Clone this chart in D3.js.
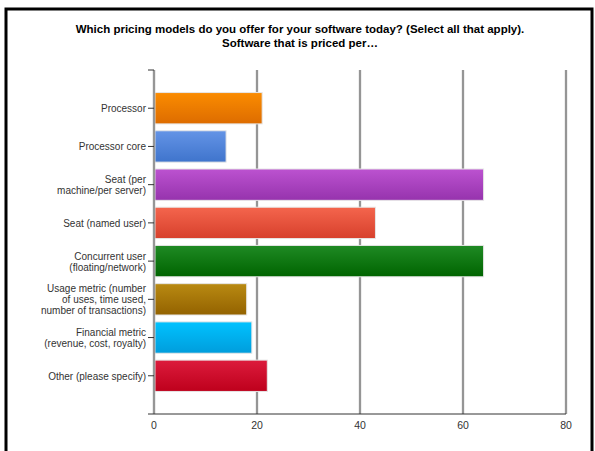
<!DOCTYPE html>
<html>
<head>
<meta charset="utf-8">
<script src="https://cdn.jsdelivr.net/npm/d3@7"></script>
<style>
  body { margin: 0; background: #fff; }
  svg text { font-family: Arial, "Liberation Sans", sans-serif; }
</style>
</head>
<body>
<svg id="chart" width="595" height="451"></svg>
<script>
// data
var categories = [
    "Processor",
    "Processor core",
    "Seat (per\nmachine/per server)",
    "Seat (named user)",
    "Concurrent user\n(floating/network)",
    "Usage metric (number\nof uses, time used,\nnumber of transactions)",
    "Financial metric\n(revenue, cost, royalty)",
    "Other (please specify)"
];
var values = [21, 14, 64, 43, 64, 18, 19, 22];
var xTicks = [0, 20, 40, 60, 80];
var barColors = [
    ["#fb8c00", "#dd6c00"],
    ["#6494e6", "#3f74cc"],
    ["#bc52d0", "#9633ad"],
    ["#f4654d", "#d7402c"],
    ["#1f8a24", "#006400"],
    ["#b98a12", "#936200"],
    ["#00c2ff", "#009ddc"],
    ["#dc1b3c", "#be001c"]
];
var titleLines = [
    "Which pricing models do you offer for your software today? (Select all that apply).",
    "Software that is priced per\u2026"
];

var width = 595, height = 451;
var svg = d3.select("#chart");

var x = d3.scaleLinear().domain([0, 80]).range([154, 566]);
// 8 bars sit on slots 1..8 of a 0..9 axis
var y = d3.scaleLinear().domain([0, categories.length + 1]).range([70, 414]);
var slot = y(1) - y(0);
var barH = slot * 0.82;

// frame
svg.append("rect")
    .attr("x", 6).attr("y", 9)
    .attr("width", 586).attr("height", 480)
    .attr("fill", "none")
    .attr("stroke", "#000")
    .attr("stroke-width", 3);

// title
svg.append("text")
    .attr("x", 300).attr("y", 33)
    .attr("text-anchor", "middle")
    .style("font-size", "11.5px")
    .style("font-weight", "bold")
    .selectAll("tspan")
    .data(titleLines)
    .join("tspan")
    .attr("x", 300)
    .attr("dy", function(d, i) { return i == 0 ? 0 : 14; })
    .text(function(d) { return d; });

// gradients
var defs = svg.append("defs");
barColors.forEach(function(c, i) {
    var g = defs.append("linearGradient")
        .attr("id", "grad" + i)
        .attr("x1", 0).attr("y1", 0).attr("x2", 0).attr("y2", 1);
    g.append("stop").attr("offset", "0%").attr("stop-color", c[0]);
    g.append("stop").attr("offset", "100%").attr("stop-color", c[1]);
});

// grid lines
var grid = svg.append("g");
grid.selectAll("line.halo")
    .data(xTicks.slice(1))
    .join("line")
    .attr("class", "halo")
    .attr("x1", function(d) { return x(d); })
    .attr("x2", function(d) { return x(d); })
    .attr("y1", y(0)).attr("y2", y(categories.length + 1))
    .attr("stroke", "#e0e0e0")
    .attr("stroke-width", 3);
grid.selectAll("line.main")
    .data(xTicks.slice(1))
    .join("line")
    .attr("class", "main")
    .attr("x1", function(d) { return x(d); })
    .attr("x2", function(d) { return x(d); })
    .attr("y1", y(0)).attr("y2", y(categories.length + 1))
    .attr("stroke", "#4a4a4a")
    .attr("stroke-width", 1);

// bars
svg.append("g")
    .selectAll("rect")
    .data(values)
    .join("rect")
    .attr("x", x(0))
    .attr("y", function(d, i) { return y(i + 1) - barH / 2; })
    .attr("width", function(d) { return x(d) - x(0); })
    .attr("height", barH)
    .attr("fill", function(d, i) { return "url(#grad" + i + ")"; })
    .attr("stroke", "#e6e6e6")
    .attr("stroke-width", 1);

// y axis
var yAxis = svg.append("g");
yAxis.append("line")
    .attr("x1", x(0)).attr("x2", x(0))
    .attr("y1", y(0)).attr("y2", y(categories.length + 1))
    .attr("stroke", "#d8d8d8").attr("stroke-width", 3);
yAxis.append("line")
    .attr("x1", x(0)).attr("x2", x(0))
    .attr("y1", y(0)).attr("y2", y(categories.length + 1))
    .attr("stroke", "#555").attr("stroke-width", 1);
yAxis.selectAll("line.tick")
    .data(d3.range(categories.length + 1))
    .join("line")
    .attr("class", "tick")
    .attr("x1", x(0) - 6).attr("x2", x(0))
    .attr("y1", function(d) { return y(d); })
    .attr("y2", function(d) { return y(d); })
    .attr("stroke", "#333");

var labels = yAxis.selectAll("text")
    .data(categories)
    .join("text")
    .attr("text-anchor", "end")
    .attr("fill", "#333")
    .style("font-size", "10px")
    .attr("transform", function(d, i) { return "translate(146," + y(i + 1) + ")"; });
labels.each(function(d) {
    var lines = d.split("\n");
    var lh = 11;
    var start = -(lines.length - 1) * lh / 2 + 4;
    d3.select(this).selectAll("tspan")
        .data(lines)
        .join("tspan")
        .attr("x", 0)
        .attr("y", function(l, j) { return start + j * lh; })
        .text(function(l) { return l; });
});

// x axis
var xAxis = svg.append("g");
xAxis.append("line")
    .attr("x1", x(0) - 6).attr("x2", x(80))
    .attr("y1", y(categories.length + 1)).attr("y2", y(categories.length + 1))
    .attr("stroke", "#333");
xAxis.selectAll("text")
    .data(xTicks)
    .join("text")
    .attr("x", function(d) { return x(d); })
    .attr("y", y(categories.length + 1) + 15)
    .attr("text-anchor", "middle")
    .attr("fill", "#333")
    .style("font-size", "10.5px")
    .text(function(d) { return d; });
</script>
</body>
</html>
